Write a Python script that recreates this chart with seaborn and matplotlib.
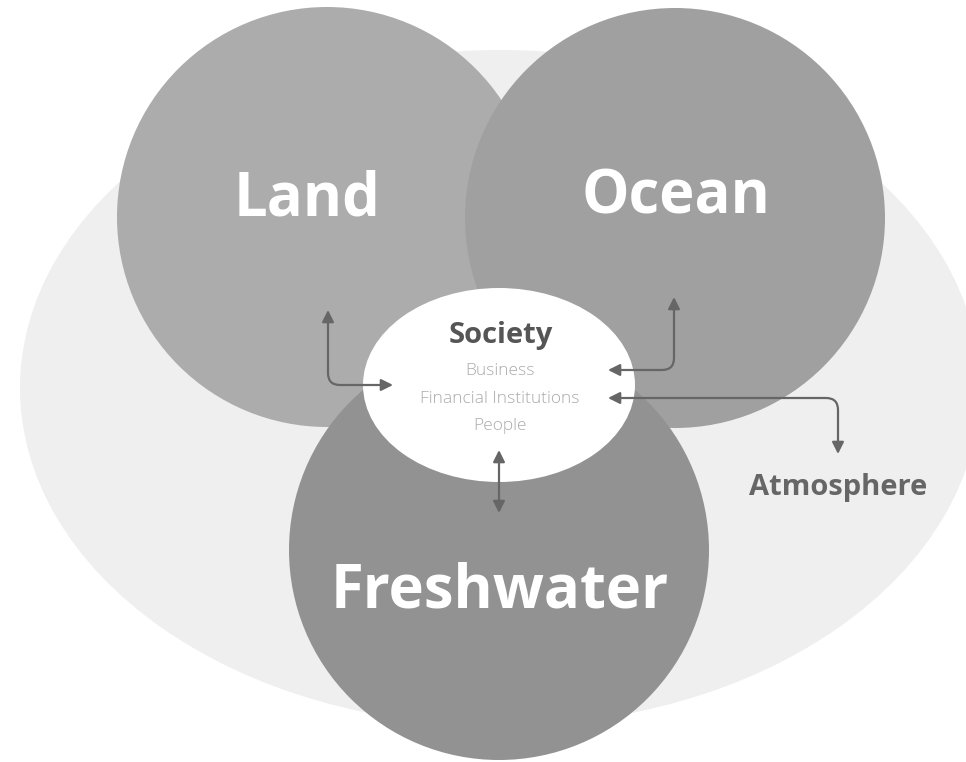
import matplotlib
matplotlib.use("Agg")
import matplotlib.pyplot as plt
from matplotlib.patches import Circle, Ellipse, FancyArrowPatch
import seaborn as sns

sns.set_theme(style="white")
plt.rcParams["font.family"] = ["Open Sans", "DejaVu Sans"]

# realms (big circles), in pixel coords of the 966x762 canvas
realms = ["Land", "Ocean", "Freshwater"]
realm_x = [327, 675, 499]
realm_y = [217, 218, 550]
realm_r = [210, 210, 210]
realm_colors = ["#acacac", "#a0a0a0", "#929292"]
label_x = [307, 676, 500]
label_y = [215, 214, 607]

# society bubble
society_title = "Society"
society_items = ["Business", "Financial Institutions", "People"]
society_item_y = [375, 403, 430]

# connectors: (start, end, connection)
arrow_starts = [(328, 310), (674, 297), (608, 398), (499, 450)]
arrow_ends = [(393, 385), (608, 370), (838, 454), (499, 513)]
arrow_conns = ["angle,angleA=90,angleB=0,rad=12",
               "angle,angleA=90,angleB=0,rad=12",
               "angle,angleA=0,angleB=90,rad=12",
               "arc3,rad=0"]

fig = plt.figure(figsize=(9.66, 7.62), dpi=100)
ax = fig.add_axes([0, 0, 1, 1])
ax.set_xlim(0, 966)
ax.set_ylim(762, 0)
ax.set_aspect("equal")
ax.axis("off")

# atmosphere backdrop
ax.add_patch(Ellipse((500, 388), 960, 676, color="#efefef", lw=0, zorder=0))

for x, y, r, c in zip(realm_x, realm_y, realm_r, realm_colors):
    ax.add_patch(Circle((x, y), r, color=c, lw=0, zorder=1))

for name, x, y in zip(realms, label_x, label_y):
    ax.text(x, y, name, ha="center", va="baseline", color="white",
            fontsize=43, fontweight="bold", zorder=5)

ax.add_patch(Ellipse((499, 385), 272, 194, color="white", lw=0, zorder=3))
ax.text(501, 343, society_title, ha="center", va="baseline", color="#555555",
        fontsize=21, fontweight="bold", zorder=5)
for item, y in zip(society_items, society_item_y):
    ax.text(500, y, item, ha="center", va="baseline", color="#ababab",
            fontsize=12.5, fontweight="light", zorder=5)

ax.text(838, 495, "Atmosphere", ha="center", va="baseline", color="#666666",
        fontsize=21, fontweight="bold", zorder=5)

for s, e, conn in zip(arrow_starts, arrow_ends, arrow_conns):
    ax.add_patch(FancyArrowPatch(s, e, connectionstyle=conn,
                                 arrowstyle="<|-|>,head_length=7,head_width=3.5",
                                 color="#666666", lw=1.6, shrinkA=0, shrinkB=0,
                                 zorder=4))

fig.savefig("out.png", dpi=100)
